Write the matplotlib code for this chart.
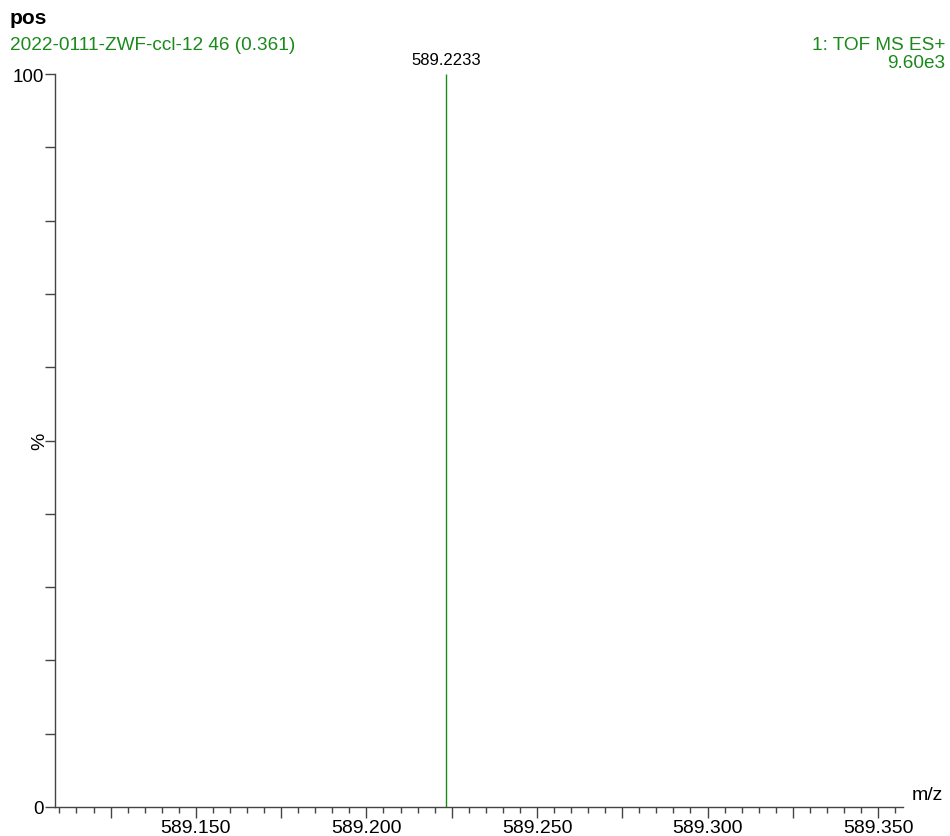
import numpy as np
import matplotlib.pyplot as plt
from matplotlib.ticker import MultipleLocator, FixedLocator, FixedFormatter

plt.rcParams['font.family'] = ['Liberation Sans', 'DejaVu Sans']

# spectrum peaks
mz = [589.2233]
intensity = [100]
peak_labels = ['589.2233']

xticks = [589.150, 589.200, 589.250, 589.300, 589.350]
xlim = (589.1087, 589.3573)

green = '#1a8a1a'

fig = plt.figure(figsize=(9.5, 8.37), dpi=100)
ax = fig.add_axes([55 / 950, 1 - 808 / 837, (903 - 55) / 950, (808 - 75) / 837])

ax.vlines(mz, 0, intensity, color=green, lw=1.0)
for x, y, s in zip(mz, intensity, peak_labels):
    ax.text(x, y + 1.0, s, ha='center', va='bottom', fontsize=12, color='black')

ax.set_xlim(*xlim)
ax.set_ylim(0, 100)

for side in ['top', 'right']:
    ax.spines[side].set_visible(False)
for side in ['left', 'bottom']:
    ax.spines[side].set_color('#444444')
    ax.spines[side].set_linewidth(1.0)

ax.xaxis.set_major_locator(MultipleLocator(0.025))
ax.xaxis.set_minor_locator(MultipleLocator(0.005))
ax.xaxis.set_major_formatter(plt.FuncFormatter(
    lambda v, p: '%.3f' % v if any(abs(v - t) < 1e-6 for t in xticks) else ''))
ax.tick_params(axis='x', which='major', length=8, width=1, color='#444444',
               labelsize=14, pad=1)
ax.tick_params(axis='x', which='minor', length=4, width=1, color='#444444')

yt = list(range(0, 101, 10))
ax.yaxis.set_major_locator(FixedLocator(yt))
ax.yaxis.set_major_formatter(FixedFormatter(['0'] + [''] * 9 + ['100']))
ax.tick_params(axis='y', length=7, width=1, color='#444444', labelsize=13.5, pad=1)

ax.text(-0.008, 0.5, '%', transform=ax.transAxes, rotation=90,
        ha='right', va='center', fontsize=14)
ax.text(1.01, 0.005, 'm/z', transform=ax.transAxes, ha='left', va='bottom',
        fontsize=14)

fig.text(10 / 950, 1 - 18 / 837, 'pos', fontsize=15, fontweight='bold',
         ha='left', va='center')
fig.text(10 / 950, 1 - 45 / 837, '2022-0111-ZWF-ccl-12 46 (0.361)',
         fontsize=13.7, color=green, ha='left', va='center')
fig.text(945 / 950, 1 - 45 / 837, '1: TOF MS ES+', fontsize=13.7, color=green,
         ha='right', va='center')
fig.text(945 / 950, 1 - 64 / 837, '9.60e3', fontsize=13.7, color=green,
         ha='right', va='center')

fig.savefig('out.png', dpi=100)
